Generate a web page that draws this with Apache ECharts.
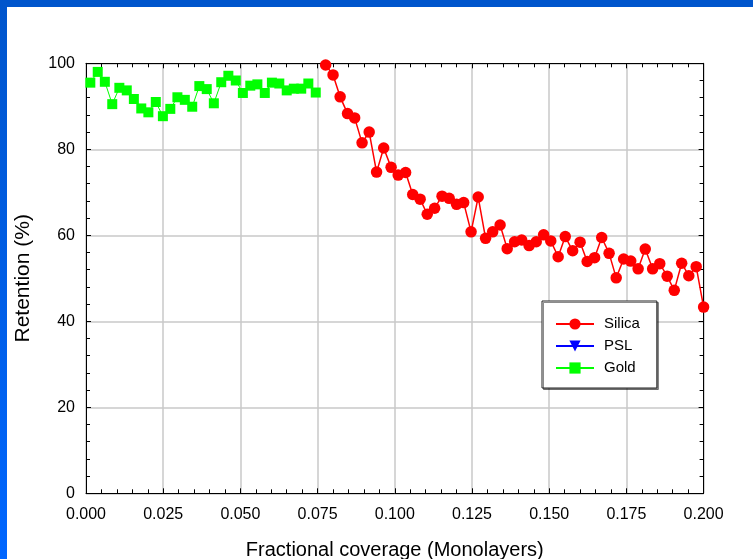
<!DOCTYPE html>
<html>
<head>
<meta charset="utf-8">
<script src="https://cdn.jsdelivr.net/npm/echarts@6/dist/echarts.min.js"></script>
<style>
  html, body { margin: 0; padding: 0; background: #ffffff; }
  #chart { width: 753px; height: 559px; }
</style>
</head>
<body>
<div id="chart"></div>
<script>
// Retention vs. fractional coverage for three particle types
const xTicks = [0, 0.025, 0.05, 0.075, 0.1, 0.125, 0.15, 0.175, 0.2];
const yTicks = [0, 20, 40, 60, 80, 100];

const goldX = [0.0014, 0.0038, 0.0061, 0.0085, 0.0108, 0.0132, 0.0155, 0.0179, 0.0202, 0.0226,
  0.0249, 0.0273, 0.0296, 0.0320, 0.0344, 0.0367, 0.0391, 0.0414, 0.0438, 0.0461,
  0.0485, 0.0508, 0.0532, 0.0555, 0.0579, 0.0602, 0.0626, 0.0650, 0.0673, 0.0697,
  0.0720, 0.0744];
const goldY = [95.5, 98.0, 95.7, 90.5, 94.3, 93.7, 91.7, 89.5, 88.6, 91.0,
  87.7, 89.4, 92.1, 91.5, 89.9, 94.7, 94.0, 90.7, 95.6, 97.1,
  96.0, 93.1, 94.8, 95.1, 93.1, 95.5, 95.3, 93.7, 94.1, 94.1,
  95.3, 93.2];

const silicaX = [0.0776, 0.0800, 0.0823, 0.0847, 0.0870, 0.0894, 0.0917, 0.0941, 0.0964, 0.0988,
  0.1011, 0.1035, 0.1058, 0.1082, 0.1105, 0.1129, 0.1153, 0.1176, 0.1200, 0.1223,
  0.1247, 0.1270, 0.1294, 0.1317, 0.1341, 0.1364, 0.1388, 0.1411, 0.1435, 0.1458,
  0.1482, 0.1505, 0.1529, 0.1552, 0.1576, 0.1600, 0.1623, 0.1647, 0.1670, 0.1694,
  0.1717, 0.1741, 0.1764, 0.1788, 0.1811, 0.1835, 0.1858, 0.1882, 0.1905, 0.1929,
  0.1952, 0.1976, 0.2000];
const silicaY = [99.6, 97.3, 92.2, 88.3, 87.3, 81.5, 84.0, 74.7, 80.3, 75.8,
  74.0, 74.6, 69.5, 68.4, 64.9, 66.3, 69.1, 68.6, 67.2, 67.6,
  60.8, 68.9, 59.3, 60.8, 62.4, 56.9, 58.5, 58.9, 57.6, 58.5,
  60.1, 58.7, 55.0, 59.7, 56.4, 58.4, 53.9, 54.8, 59.5, 55.8,
  50.1, 54.5, 54.0, 52.2, 56.8, 52.2, 53.4, 50.5, 47.2, 53.5,
  50.6, 52.7, 43.3];

// PSL has no points in this coverage range; it only appears in the legend
const pslX = [];
const pslY = [];

const pairs = (xs, ys) => xs.map((x, i) => [x, ys[i]]);

const FONT = '"Liberation Sans", Arial, sans-serif';
const PLOT = { left: 86, top: 63.3, right: 49.4, bottom: 65.7 };

function valueAxis(kind, pos, showLabels) {
  const isX = kind === 'x';
  return {
    type: 'value',
    position: pos,
    min: isX ? xTicks[0] : yTicks[0],
    max: isX ? xTicks[xTicks.length - 1] : yTicks[yTicks.length - 1],
    interval: isX ? xTicks[1] - xTicks[0] : yTicks[1] - yTicks[0],
    axisLine: { show: true, onZero: false, lineStyle: { color: '#000', width: 1 } },
    axisTick: { show: true, inside: true, length: 5, lineStyle: { color: '#000', width: 1 } },
    minorTick: { show: true, splitNumber: 5, length: 4, lineStyle: { color: '#000', width: 1 } },
    splitLine: { show: showLabels, lineStyle: { color: '#c8c8c8', width: 1.5 } },
    minorSplitLine: { show: false },
    axisLabel: {
      show: showLabels,
      color: '#000',
      fontFamily: FONT,
      fontSize: 16,
      margin: isX ? 13 : 11,
      formatter: isX ? (v) => v.toFixed(3) : (v) => String(v)
    }
  };
}

const xMain = valueAxis('x', 'bottom', true);
xMain.name = 'Fractional coverage (Monolayers)';
xMain.nameLocation = 'middle';
xMain.nameGap = 47;
xMain.nameTextStyle = { color: '#000', fontFamily: FONT, fontSize: 20 };

const yMain = valueAxis('y', 'left', true);
yMain.name = 'Retention (%)';
yMain.nameLocation = 'middle';
yMain.nameGap = 52;
yMain.nameTextStyle = { color: '#000', fontFamily: FONT, fontSize: 21 };

const chart = echarts.init(document.getElementById('chart'), null, { renderer: 'canvas' });

chart.setOption({
  backgroundColor: '#ffffff',
  animation: false,
  graphic: [
    {
      type: 'rect', left: 0, top: 0, z: -10,
      shape: { width: 753, height: 7 },
      style: { fill: '#0055cc' }
    },
    {
      type: 'rect', left: 0, top: 0, z: -10,
      shape: { width: 7, height: 559 },
      style: {
        fill: new echarts.graphic.LinearGradient(0, 0, 0, 1, [
          { offset: 0, color: '#0055cc' },
          { offset: 1, color: '#0066ff' }
        ])
      }
    }
  ],
  grid: {
    left: PLOT.left, top: PLOT.top, right: PLOT.right, bottom: PLOT.bottom,
    containLabel: false,
    outerBoundsMode: 'none'
  },
  xAxis: [xMain, valueAxis('x', 'top', false)],
  yAxis: [yMain, valueAxis('y', 'right', false)],
  legend: {
    orient: 'vertical',
    left: 542,
    top: 301,
    padding: [15, 17, 12, 13],
    itemGap: 6,
    itemWidth: 38,
    itemHeight: 14,
    backgroundColor: '#ffffff',
    borderColor: '#222',
    borderWidth: 1,
    shadowColor: 'rgba(0,0,0,0.45)',
    shadowOffsetX: 1.5,
    shadowOffsetY: 1.5,
    shadowBlur: 0,
    textStyle: { color: '#000', fontFamily: FONT, fontSize: 15, lineHeight: 16, padding: [0, 0, 0, 5] },
    data: ['Silica', 'PSL', 'Gold']
  },
  series: [
    {
      name: 'Silica',
      type: 'line',
      data: pairs(silicaX, silicaY),
      symbol: 'circle',
      symbolSize: 11.5,
      clip: false,
      itemStyle: { color: '#ff0000' },
      lineStyle: { color: '#ff0000', width: 1.5 },
      z: 3
    },
    {
      name: 'PSL',
      type: 'line',
      data: pairs(pslX, pslY),
      symbol: 'path://M0,0 L10,0 L5,9 Z',
      symbolSize: 11,
      itemStyle: { color: '#0000ff' },
      lineStyle: { color: '#0000ff', width: 1.5 }
    },
    {
      name: 'Gold',
      type: 'line',
      data: pairs(goldX, goldY),
      symbol: 'rect',
      symbolSize: 10,
      clip: false,
      itemStyle: { color: '#00ff00' },
      lineStyle: { color: '#00ff00', width: 1 },
      z: 3
    }
  ]
});
</script>
</body>
</html>
